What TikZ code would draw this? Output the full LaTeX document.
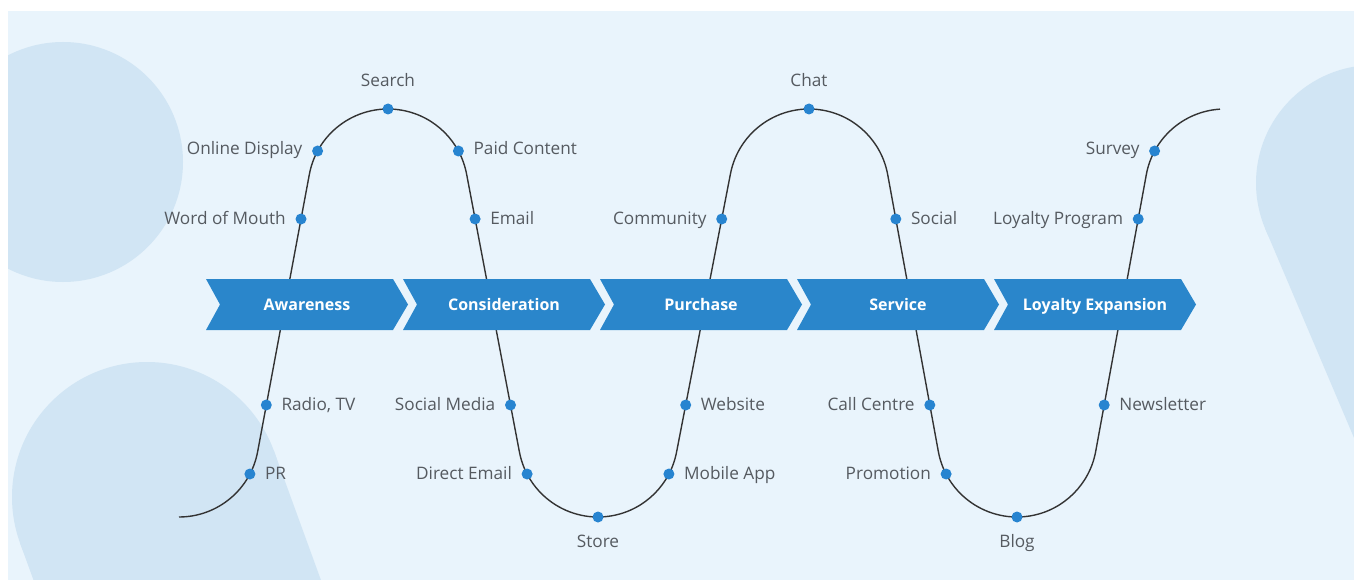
\documentclass[tikz,border=0pt]{standalone}
\usepackage{fontspec}
\setmainfont{Open Sans}
\definecolor{bgblue}{HTML}{E9F4FC}
\definecolor{shapeblue}{HTML}{D1E5F4}
\definecolor{chevblue}{HTML}{2A86CB}
\definecolor{dotblue}{HTML}{2784D0}
\definecolor{curvecol}{HTML}{333333}
\definecolor{lblcol}{HTML}{555A60}
\tikzset{
  dot/.style={circle, fill=dotblue, inner sep=0pt, minimum size=11pt},
  lbl/.style={inner sep=0pt, text=lblcol, font=\fontsize{17.2}{19}\selectfont},
  curve/.style={draw=curvecol, line width=1.4pt},
  chev/.style={fill=chevblue},
  chevtxt/.style={inner sep=0pt, text=white, font=\fontsize{16}{18}\selectfont\bfseries, anchor=base},
}
\begin{document}
\begin{tikzpicture}[x=1pt,y=-1pt]
\useasboundingbox (0,0) rectangle (1354,580);
\fill[white] (0,0) rectangle (1354,580);
\fill[bgblue] (8,11) rectangle (1354,580);
\begin{scope}
  \clip (8,11) rectangle (1354,580);
  \fill[shapeblue] (63,162) circle[radius=120];
  \fill[shapeblue] (147,497) circle[radius=135];
  \fill[shapeblue] (273.9,450.8) -- (376.5,732.7) -- (122.7,825.1) -- (20.1,543.2) -- cycle;
  \fill[shapeblue] (1374,183) circle[radius=118];
  \fill[shapeblue] (1482.6,136.9) -- (1678,597.2) -- (1460.8,689.4) -- (1265.4,229.1) -- cycle;
\end{scope}
% the wave
\draw[curve] (179,517) arc[start angle=90, end angle=10.57, radius=80]
  -- (309.36,174.32) arc[start angle=190.57, end angle=349.43, radius=80]
  -- (519.36,451.68) arc[start angle=169.43, end angle=10.57, radius=80]
  -- (730.36,174.32) arc[start angle=190.57, end angle=349.43, radius=80]
  -- (938.36,451.68) arc[start angle=169.43, end angle=10.57, radius=80]
  -- (1146.36,174.32) arc[start angle=190.57, end angle=266.4, radius=80];
% chevrons
\foreach \x/\t/\n in {206/Awareness/cA, 403/Consideration/cC, 600/Purchase/cP, 797/Service/cS, 994/Loyalty Expansion/cL}{
  \fill[chev] (\x,279) -- (\x+187,279) -- (\x+202,304.5) -- (\x+187,330) -- (\x,330) -- (\x+14,304.5) -- cycle;
  \node[chevtxt] (\n) at (\x+101,310) {\t};
}
% dots
\node[dot] (dPR) at (249.9,474) {};
\node[dot] (dRadio) at (266.3,405) {};
\node[dot] (dWord) at (301.0,219) {};
\node[dot] (dOnline) at (317.6,151) {};
\node[dot] (dSearch) at (388,109) {};
\node[dot] (dPaid) at (458.4,151) {};
\node[dot] (dEmail) at (475.1,219) {};
\node[dot] (dSocialM) at (510.5,405) {};
\node[dot] (dDirect) at (527.1,474) {};
\node[dot] (dStore) at (598,517) {};
\node[dot] (dMobile) at (668.9,474) {};
\node[dot] (dWeb) at (685.7,405) {};
\node[dot] (dComm) at (721.7,219) {};
\node[dot] (dChat) at (809,109) {};
\node[dot] (dSocial) at (895.8,219) {};
\node[dot] (dCall) at (929.8,405) {};
\node[dot] (dPromo) at (946.1,474) {};
\node[dot] (dBlog) at (1017,517) {};
\node[dot] (dNews) at (1104.2,405) {};
\node[dot] (dLoyal) at (1138.2,219) {};
\node[dot] (dSurvey) at (1154.6,151) {};
% labels
\node[lbl, anchor=base west] (tPR) at ([xshift=15pt,yshift=-5pt]dPR.center) {PR};
\node[lbl, anchor=base west] (tRadio) at ([xshift=15pt,yshift=-5pt]dRadio.center) {Radio, TV};
\node[lbl, anchor=base east] (tWord) at ([xshift=-15pt,yshift=-5pt]dWord.center) {Word of Mouth};
\node[lbl, anchor=base east] (tOnline) at ([xshift=-15pt,yshift=-4pt]dOnline.center) {Online Display};
\node[lbl, anchor=base] (tSearch) at ([yshift=22pt]dSearch.center) {Search};
\node[lbl, anchor=base west] (tPaid) at ([xshift=15pt,yshift=-4pt]dPaid.center) {Paid Content};
\node[lbl, anchor=base west] (tEmail) at ([xshift=15pt,yshift=-5pt]dEmail.center) {Email};
\node[lbl, anchor=base east] (tSocialM) at ([xshift=-15pt,yshift=-5pt]dSocialM.center) {Social Media};
\node[lbl, anchor=base east] (tDirect) at ([xshift=-15pt,yshift=-5pt]dDirect.center) {Direct Email};
\node[lbl, anchor=base] (tStore) at ([yshift=-30pt]dStore.center) {Store};
\node[lbl, anchor=base west] (tMobile) at ([xshift=15pt,yshift=-5pt]dMobile.center) {Mobile App};
\node[lbl, anchor=base west] (tWeb) at ([xshift=15pt,yshift=-5pt]dWeb.center) {Website};
\node[lbl, anchor=base east] (tComm) at ([xshift=-15pt,yshift=-5pt]dComm.center) {Community};
\node[lbl, anchor=base] (tChat) at ([yshift=22pt]dChat.center) {Chat};
\node[lbl, anchor=base west] (tSocial) at ([xshift=15pt,yshift=-5pt]dSocial.center) {Social};
\node[lbl, anchor=base east] (tCall) at ([xshift=-15pt,yshift=-5pt]dCall.center) {Call Centre};
\node[lbl, anchor=base east] (tPromo) at ([xshift=-15pt,yshift=-5pt]dPromo.center) {Promotion};
\node[lbl, anchor=base] (tBlog) at ([yshift=-30pt]dBlog.center) {Blog};
\node[lbl, anchor=base west] (tNews) at ([xshift=15pt,yshift=-5pt]dNews.center) {Newsletter};
\node[lbl, anchor=base east] (tLoyal) at ([xshift=-15pt,yshift=-5pt]dLoyal.center) {Loyalty Program};
\node[lbl, anchor=base east] (tSurvey) at ([xshift=-15pt,yshift=-4pt]dSurvey.center) {Survey};
\end{tikzpicture}
\end{document}
